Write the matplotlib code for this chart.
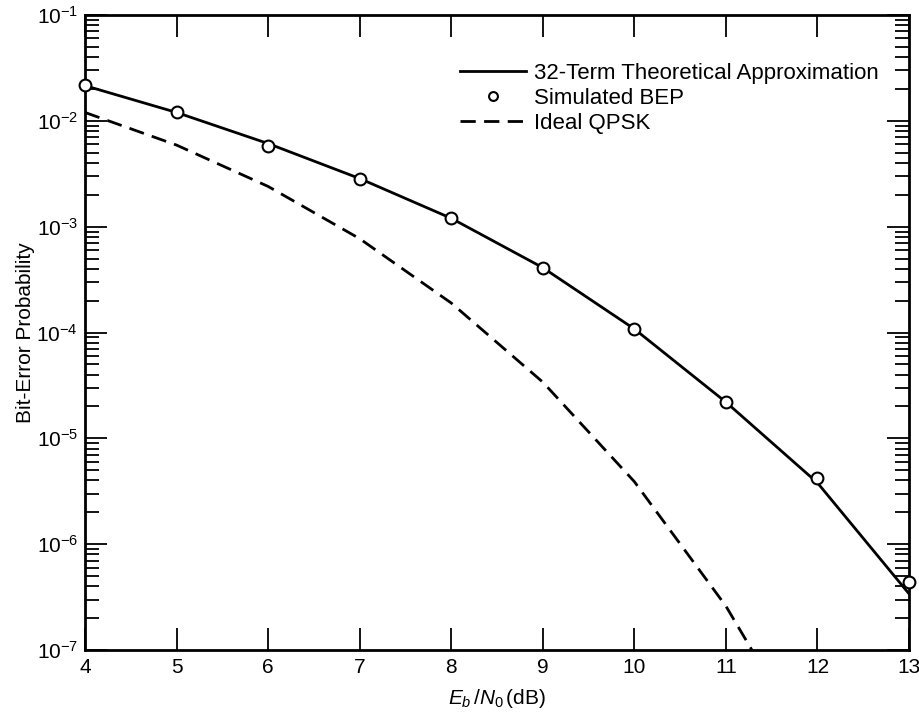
import numpy as np
import matplotlib.pyplot as plt
from matplotlib.ticker import LogLocator, NullFormatter

plt.rcParams['font.family'] = ['Liberation Sans', 'DejaVu Sans']
plt.rcParams['mathtext.fontset'] = 'custom'
plt.rcParams['mathtext.rm'] = 'Liberation Sans'
plt.rcParams['mathtext.it'] = 'Liberation Sans:italic'

# Eb/N0 (dB)
snr = [4, 5, 6, 7, 8, 9, 10, 11, 12, 13]
# 32-term theoretical approximation
theory = [2.15e-2, 1.2e-2, 6.1e-3, 2.85e-3, 1.2e-3, 4.1e-4, 1.08e-4, 2.2e-5, 3.8e-6, 3.4e-7]
# simulated BEP
simulated = [2.2e-2, 1.2e-2, 5.8e-3, 2.85e-3, 1.2e-3, 4.1e-4, 1.07e-4, 2.2e-5, 4.2e-6, 4.4e-7]
# ideal QPSK
snr_qpsk = [4, 5, 6, 7, 8, 9, 10, 11, 12]
qpsk = [1.2e-2, 5.9e-3, 2.4e-3, 7.7e-4, 1.9e-4, 3.4e-5, 3.9e-6, 2.6e-7, 9.0e-9]

fig = plt.figure(figsize=(9.2, 7.21), dpi=100)
ax = fig.add_axes([85/920, 71/721, 824/920, 635/721])

ax.plot(snr, theory, '-', color='black', lw=2, label='32-Term Theoretical Approximation')
ax.plot(snr, simulated, 'o', color='black', mfc='white', mew=1.5, ms=8.5,
        clip_on=False, zorder=5, label='Simulated BEP')
ax.plot(snr_qpsk, qpsk, '--', color='black', lw=2, dashes=(5.5, 3), label='Ideal QPSK')

ax.set_yscale('log')
ax.set_xlim(4, 13)
ax.set_ylim(1e-7, 1e-1)
ax.set_xticks(range(4, 14))
ax.yaxis.set_major_locator(LogLocator(base=10, numticks=10))
ax.yaxis.set_minor_locator(LogLocator(base=10, subs=np.arange(2, 10), numticks=20))
ax.yaxis.set_minor_formatter(NullFormatter())

ax.tick_params(which='both', direction='in', top=True, right=True, labelsize=15, width=1.3)
ax.tick_params(axis='x', which='major', length=16, pad=6)
ax.tick_params(axis='y', which='major', length=16, pad=5)
ax.tick_params(axis='y', which='minor', length=10)
for s in ax.spines.values():
    s.set_linewidth(2)

ax.set_xlabel(r'$E_b\,/N_0\,$(dB)', fontsize=15, labelpad=7)
ax.set_ylabel('Bit-Error Probability', fontsize=15, labelpad=1)

leg = ax.legend(loc='upper left', bbox_to_anchor=((460 - 85) / 824, (650 - 63) / 635),
                frameon=False, borderpad=0, borderaxespad=0,
                fontsize=16, handlelength=2.95, handletextpad=0.4, labelspacing=0.18,
                markerscale=0.75)

fig.savefig('out.png', dpi=100)
